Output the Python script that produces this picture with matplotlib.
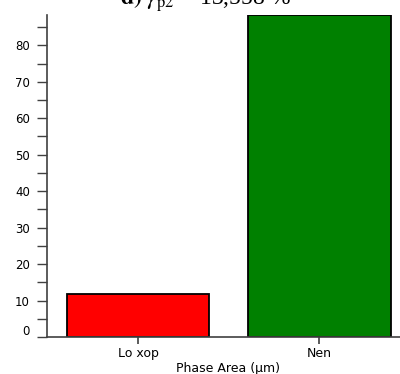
import matplotlib
matplotlib.use("Agg")
import matplotlib.pyplot as plt
import matplotlib.transforms as mtransforms
from matplotlib.ticker import MultipleLocator

# phase fractions (%)
categorias = ["Lo xop", "Nen"]
valores = [11.7, 88.3]
cores = ["#ff0000", "#008000"]
titulo = r"$\mathbf{d)}$ $\gamma_{\rm p2}$ = 13,558 %"
rotuloX = "Phase Area (µm)"

plt.rcParams["mathtext.fontset"] = "stix"

fig = plt.figure(figsize=(4, 3.74), dpi=100)
ax = fig.add_axes([0.1168, 0.0989, 0.9085, 0.861])

ax.bar(range(len(categorias)), valores, width=0.787, color=cores,
       edgecolor="black", linewidth=1.3)

ax.set_xlim(-0.504, 1.5)
ax.set_ylim(0, 88.3)
ax.set_xticks(range(len(categorias)))
ax.set_xticklabels(categorias)
ax.yaxis.set_major_locator(MultipleLocator(10))
ax.yaxis.set_minor_locator(MultipleLocator(5))

for lado in ["top", "right"]:
    ax.spines[lado].set_visible(False)
for lado in ["left", "bottom"]:
    ax.spines[lado].set_color("#404040")
    ax.spines[lado].set_linewidth(1.2)

ax.tick_params(axis="y", which="both", length=7.2, width=1, color="#404040",
               labelsize=8.5, pad=5)
ax.tick_params(axis="x", length=5, width=1.2, color="#404040",
               labelsize=9, pad=2)

# o rotulo do zero fica um pouco acima do eixo
for rot in ax.get_yticklabels():
    if rot.get_text() in ("0", "−0"):
        rot.set_transform(rot.get_transform() +
                          mtransforms.ScaledTranslation(0, 7 / 100, fig.dpi_scale_trans))

ax.set_xlabel(rotuloX, fontsize=9, labelpad=1.5)

fig.text(0.513, 1 - 5 / 374, titulo, ha="center", va="baseline",
         fontsize=17, family="Liberation Serif")

fig.savefig("out.png", dpi=100)
